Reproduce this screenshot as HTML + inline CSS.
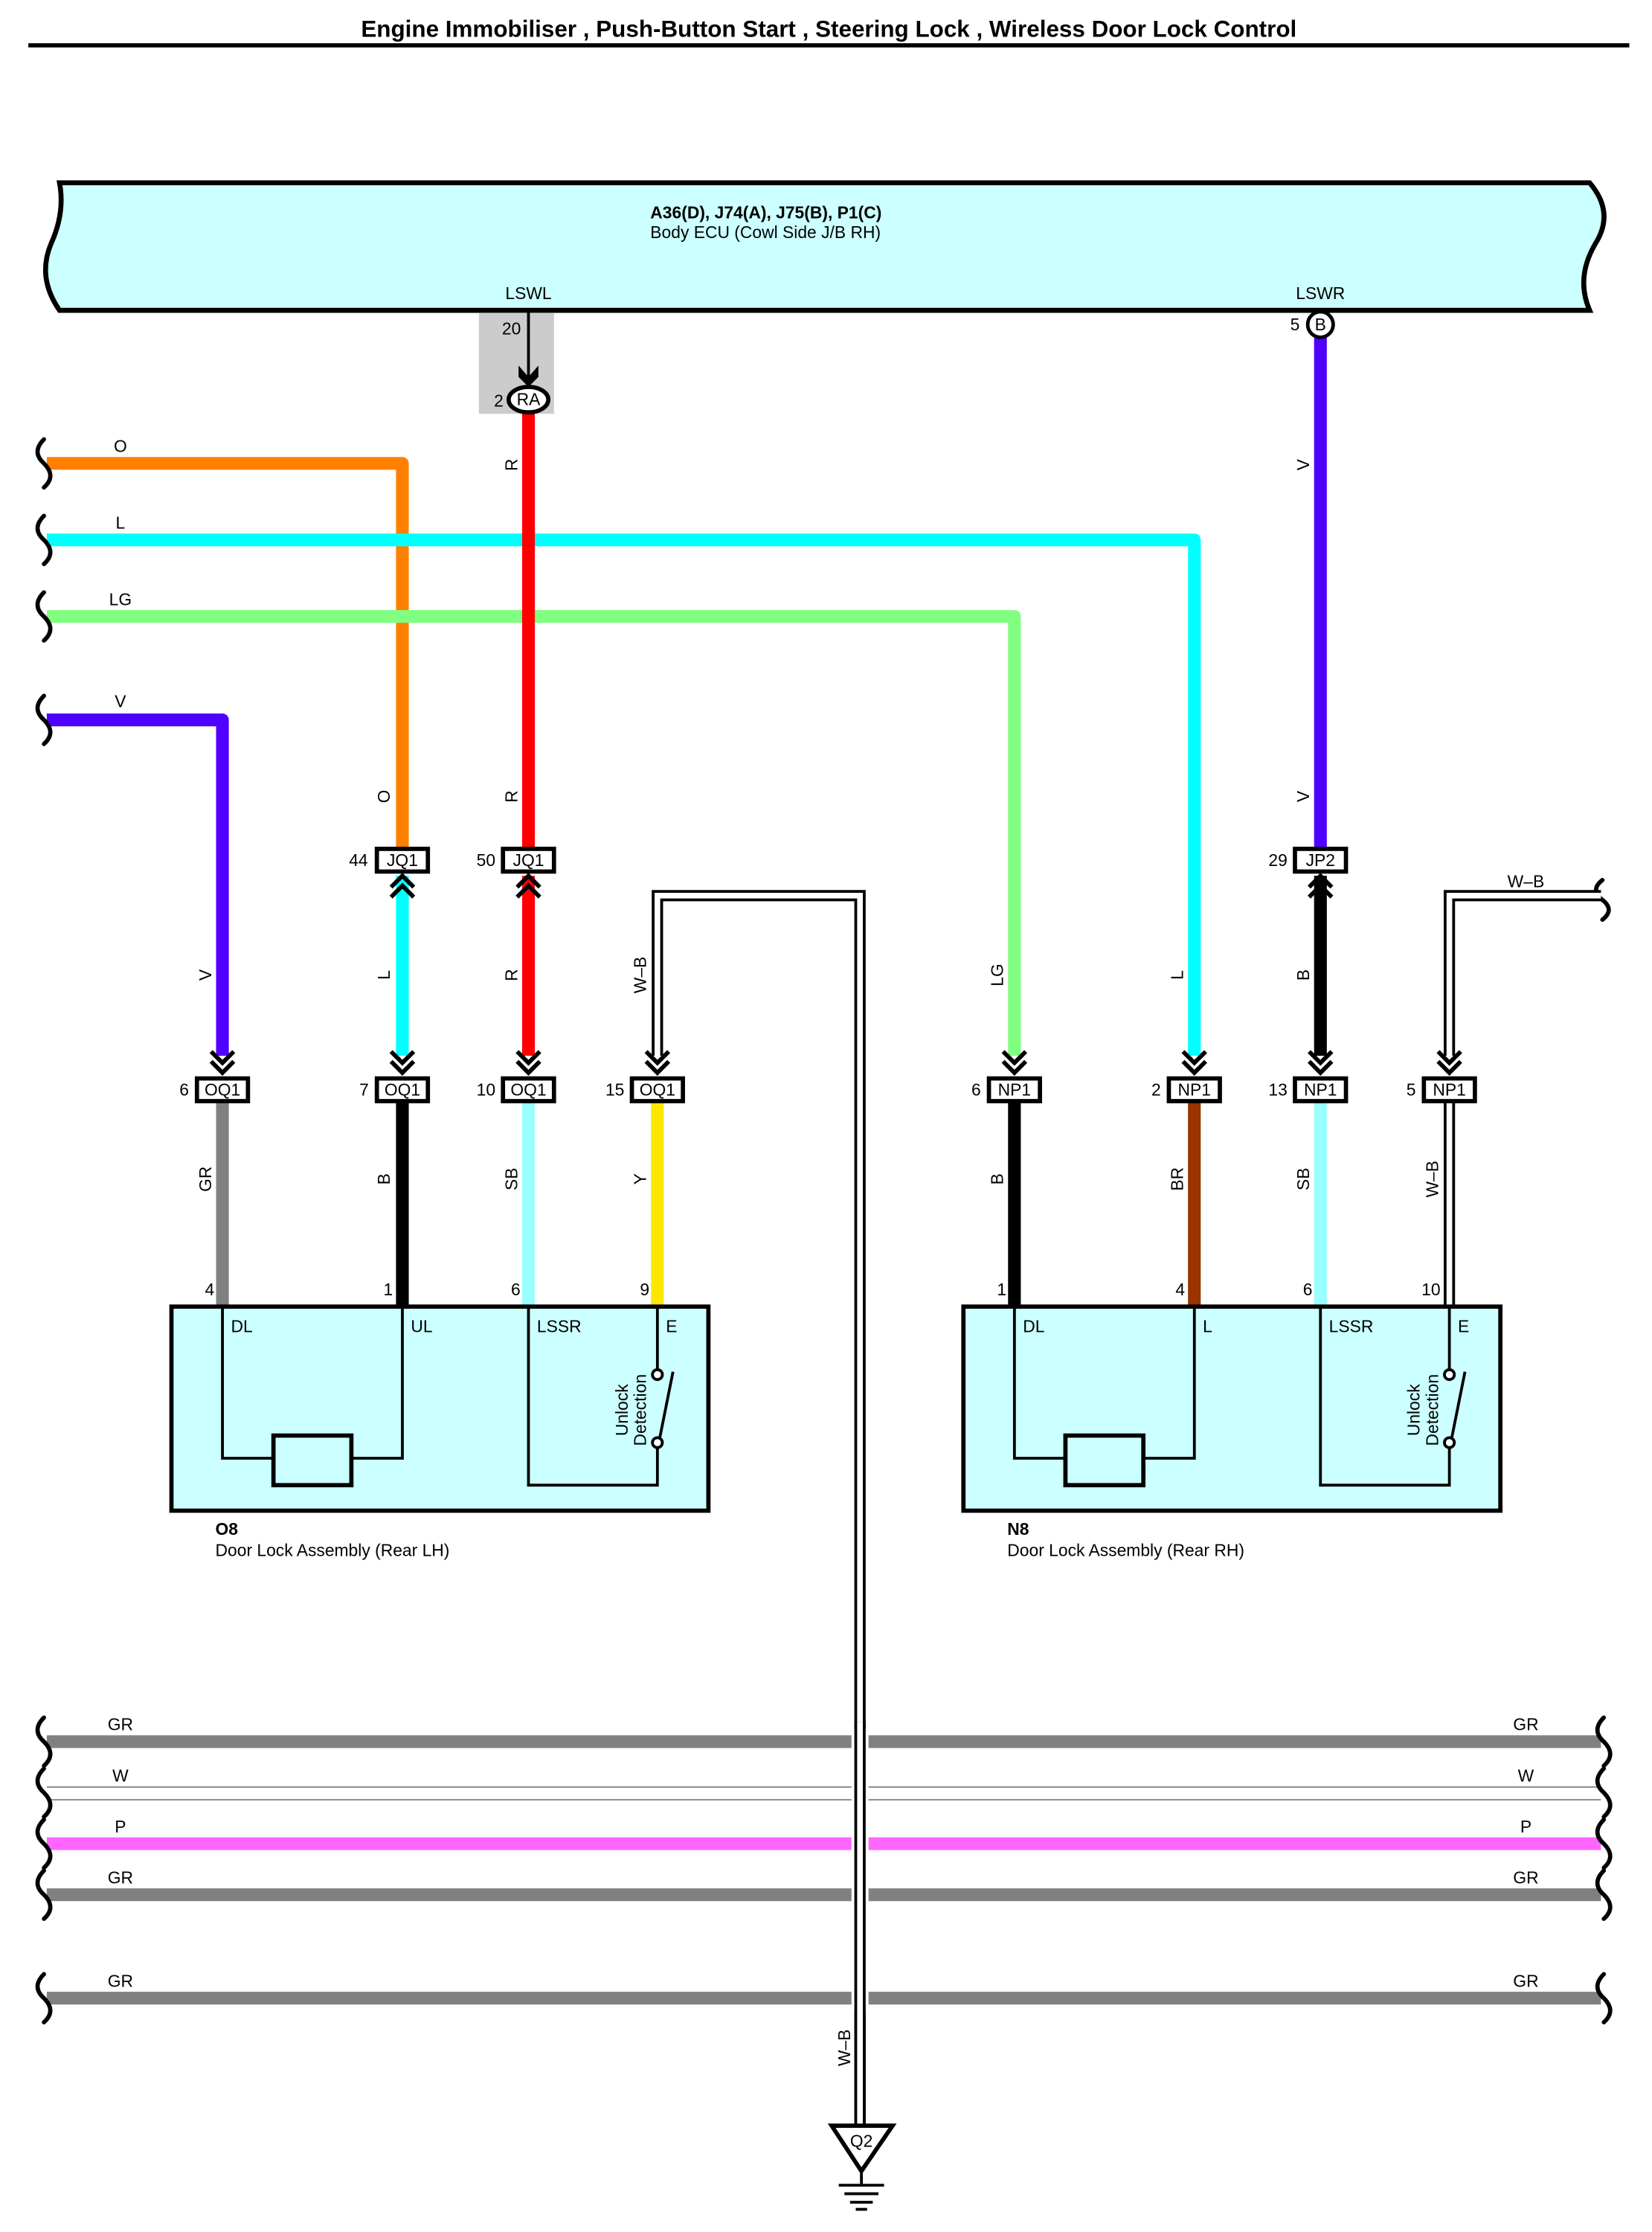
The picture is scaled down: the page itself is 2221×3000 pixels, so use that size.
<!DOCTYPE html>
<html><head><meta charset="utf-8"><style>
html,body{margin:0;padding:0;background:#fff}
svg{display:block}
text{font-family:"Liberation Sans",Arial,sans-serif;font-size:12px;fill:#000}
.c{text-anchor:middle}
</style></head><body>
<svg width="2221" height="3000" viewBox="0 0 1166 1575" xmlns="http://www.w3.org/2000/svg">
<rect width="1166" height="1575" fill="#fff"/>
<text x="585" y="26" class="c" style="font-weight:bold;font-size:16.5px">Engine Immobiliser , Push-Button Start , Steering Lock , Wireless Door Lock Control</text>
<line x1="20" y1="32" x2="1150" y2="32" stroke="#000" stroke-width="3"/>

<path d="M42,129 L1122,129 Q1140,150 1126,172 Q1112,196 1122,219 L42,219 Q26,196 36,172 Q46,150 42,129 Z" fill="#ccffff" stroke="#000" stroke-width="3.5"/>
<text x="459" y="154" style="font-weight:bold">A36(D), J74(A), J75(B), P1(C)</text>
<text x="459" y="168">Body ECU (Cowl Side J/B RH)</text>
<text x="373" y="211" class="c">LSWL</text>
<text x="932" y="211" class="c">LSWR</text>

<rect x="338" y="221" width="53" height="71" fill="#cccccc"/>
<line x1="373" y1="219" x2="373" y2="268" stroke="#000" stroke-width="2"/>
<path d="M366,258 L373,266 L380,258 L380,266 L373,273 L366,266 Z" fill="#000"/>
<text x="361" y="236" class="c">20</text>
<text x="352" y="287" class="c">2</text>

<g fill="none" stroke-width="9" stroke-linejoin="round">
<path d="M33,327 H284 V598" stroke="#ff8000"/>
<path d="M33,381 H843 V745" stroke="#00ffff"/>
<path d="M33,435 H716 V745" stroke="#80ff80"/>
<path d="M33,508 H157 V745" stroke="#5000ff"/>
<path d="M373,292 V598" stroke="#ff0000"/>
<path d="M373,618 V745" stroke="#ff0000"/>
<path d="M284,618 V745" stroke="#00ffff"/>
<path d="M932,238 V598" stroke="#5000ff"/>
<path d="M932,618 V745" stroke="#000"/>
<path d="M157,778 V922" stroke="#808080"/>
<path d="M284,778 V922" stroke="#000"/>
<path d="M373,778 V922" stroke="#99ffff"/>
<path d="M464,778 V922" stroke="#ffe600"/>
<path d="M716,778 V922" stroke="#000"/>
<path d="M843,778 V922" stroke="#993300"/>
<path d="M932,778 V922" stroke="#99ffff"/>
</g>
<ellipse cx="373" cy="282" rx="14" ry="9" fill="#fff" stroke="#000" stroke-width="3"/>
<text x="373" y="286" class="c">RA</text>
<circle cx="932" cy="229" r="9" fill="#fff" stroke="#000" stroke-width="2.5"/>
<text x="932" y="233" class="c">B</text>
<text x="914" y="233" class="c">5</text>

<g fill="none" stroke="#000" stroke-width="3" stroke-linecap="round">
<path d="M31,310 q-9,9 0,17 q9,9 0,17"/>
<path d="M31,364 q-9,9 0,17 q9,9 0,17"/>
<path d="M31,418 q-9,9 0,17 q9,9 0,17"/>
<path d="M31,491 q-9,9 0,17 q9,9 0,17"/>
<path d="M1131,621 q-9,7 0,14 q9,7 0,14"/>
</g>
<text x="85" y="319" class="c">O</text>
<text x="85" y="373" class="c">L</text>
<text x="85" y="427" class="c">LG</text>
<text x="85" y="499" class="c">V</text>

<g fill="none" stroke-linejoin="miter">
<path d="M464,745 V632 H607 V1500" stroke="#000" stroke-width="8"/>
<path d="M464,745 V632 H607 V1500" stroke="#fff" stroke-width="4"/>
<path d="M1023,745 V632 H1130" stroke="#000" stroke-width="8"/>
<path d="M1023,745 V632 H1130" stroke="#fff" stroke-width="4"/>
<path d="M1023,778 V922" stroke="#000" stroke-width="8"/>
<path d="M1023,778 V922" stroke="#fff" stroke-width="4"/>
</g>
<text x="1077" y="626" class="c">W–B</text>

<g fill="#fff" stroke="#000" stroke-width="3">
<rect x="266" y="599" width="36" height="16"/>
<rect x="355" y="599" width="36" height="16"/>
<rect x="914" y="599" width="36" height="16"/>
</g>
<text x="284" y="611" class="c">JQ1</text><text x="253" y="611" class="c">44</text>
<text x="373" y="611" class="c">JQ1</text><text x="343" y="611" class="c">50</text>
<text x="932" y="611" class="c">JP2</text><text x="902" y="611" class="c">29</text>
<g fill="none" stroke="#000" stroke-width="3">
<path d="M276,626 l8,-8 l8,8 M276,633 l8,-8 l8,8"/>
<path d="M365,626 l8,-8 l8,8 M365,633 l8,-8 l8,8"/>
<path d="M924,626 l8,-8 l8,8 M924,633 l8,-8 l8,8"/>
</g>

<g fill="none" stroke="#000" stroke-width="3">
<path d="M149,742 l8,8 l8,-8 M149,749 l8,8 l8,-8"/>
<path d="M276,742 l8,8 l8,-8 M276,749 l8,8 l8,-8"/>
<path d="M365,742 l8,8 l8,-8 M365,749 l8,8 l8,-8"/>
<path d="M456,742 l8,8 l8,-8 M456,749 l8,8 l8,-8"/>
<path d="M708,742 l8,8 l8,-8 M708,749 l8,8 l8,-8"/>
<path d="M835,742 l8,8 l8,-8 M835,749 l8,8 l8,-8"/>
<path d="M924,742 l8,8 l8,-8 M924,749 l8,8 l8,-8"/>
<path d="M1015,742 l8,8 l8,-8 M1015,749 l8,8 l8,-8"/>
</g>
<g fill="#fff" stroke="#000" stroke-width="3">
<rect x="139" y="761" width="36" height="16"/>
<rect x="266" y="761" width="36" height="16"/>
<rect x="355" y="761" width="36" height="16"/>
<rect x="446" y="761" width="36" height="16"/>
<rect x="698" y="761" width="36" height="16"/>
<rect x="825" y="761" width="36" height="16"/>
<rect x="914" y="761" width="36" height="16"/>
<rect x="1005" y="761" width="36" height="16"/>
</g>
<text x="157" y="773" class="c">OQ1</text><text x="130" y="773" class="c">6</text>
<text x="284" y="773" class="c">OQ1</text><text x="257" y="773" class="c">7</text>
<text x="373" y="773" class="c">OQ1</text><text x="343" y="773" class="c">10</text>
<text x="464" y="773" class="c">OQ1</text><text x="434" y="773" class="c">15</text>
<text x="716" y="773" class="c">NP1</text><text x="689" y="773" class="c">6</text>
<text x="843" y="773" class="c">NP1</text><text x="816" y="773" class="c">2</text>
<text x="932" y="773" class="c">NP1</text><text x="902" y="773" class="c">13</text>
<text x="1023" y="773" class="c">NP1</text><text x="996" y="773" class="c">5</text>

<g>
<text transform="translate(365,328) rotate(-90)" class="c">R</text>
<text transform="translate(924,328) rotate(-90)" class="c">V</text>
<text transform="translate(275,562) rotate(-90)" class="c">O</text>
<text transform="translate(365,562) rotate(-90)" class="c">R</text>
<text transform="translate(924,562) rotate(-90)" class="c">V</text>
<text transform="translate(149,688) rotate(-90)" class="c">V</text>
<text transform="translate(275,688) rotate(-90)" class="c">L</text>
<text transform="translate(365,688) rotate(-90)" class="c">R</text>
<text transform="translate(456,688) rotate(-90)" class="c">W–B</text>
<text transform="translate(708,688) rotate(-90)" class="c">LG</text>
<text transform="translate(835,688) rotate(-90)" class="c">L</text>
<text transform="translate(924,688) rotate(-90)" class="c">B</text>
<text transform="translate(149,832) rotate(-90)" class="c">GR</text>
<text transform="translate(275,832) rotate(-90)" class="c">B</text>
<text transform="translate(365,832) rotate(-90)" class="c">SB</text>
<text transform="translate(456,832) rotate(-90)" class="c">Y</text>
<text transform="translate(708,832) rotate(-90)" class="c">B</text>
<text transform="translate(835,832) rotate(-90)" class="c">BR</text>
<text transform="translate(924,832) rotate(-90)" class="c">SB</text>
<text transform="translate(1015,832) rotate(-90)" class="c">W–B</text>
<text transform="translate(600,1445) rotate(-90)" class="c">W–B</text>
</g>

<g>
<rect x="121" y="922" width="379" height="144" fill="#ccffff" stroke="#000" stroke-width="3"/>
<g fill="none" stroke="#000" stroke-width="2">
<path d="M157,922 V1029 H193 M248,1029 H284 V922"/>
<rect x="193" y="1013" width="55" height="35" stroke-width="3"/>
<path d="M373,922 V1048 H464 V1022 M464,966 V922 M465,1018 L475,968"/>
<circle cx="464" cy="970" r="3.5" fill="#fff"/>
<circle cx="464" cy="1018" r="3.5" fill="#fff"/>
</g>
<text x="163" y="940">DL</text><text x="290" y="940">UL</text>
<text x="379" y="940">LSSR</text><text x="470" y="940">E</text>
<text x="148" y="914" class="c">4</text><text x="274" y="914" class="c">1</text>
<text x="364" y="914" class="c">6</text><text x="455" y="914" class="c">9</text>
<text transform="translate(443,995) rotate(-90)" class="c">Unlock</text>
<text transform="translate(456,995) rotate(-90)" class="c">Detection</text>
<text x="152" y="1083" style="font-weight:bold">O8</text>
<text x="152" y="1098">Door Lock Assembly (Rear LH)</text>
</g>

<g transform="translate(559,0)">
<rect x="121" y="922" width="379" height="144" fill="#ccffff" stroke="#000" stroke-width="3"/>
<g fill="none" stroke="#000" stroke-width="2">
<path d="M157,922 V1029 H193 M248,1029 H284 V922"/>
<rect x="193" y="1013" width="55" height="35" stroke-width="3"/>
<path d="M373,922 V1048 H464 V1022 M464,966 V922 M465,1018 L475,968"/>
<circle cx="464" cy="970" r="3.5" fill="#fff"/>
<circle cx="464" cy="1018" r="3.5" fill="#fff"/>
</g>
<text x="163" y="940">DL</text><text x="290" y="940">L</text>
<text x="379" y="940">LSSR</text><text x="470" y="940">E</text>
<text x="148" y="914" class="c">1</text><text x="274" y="914" class="c">4</text>
<text x="364" y="914" class="c">6</text><text x="451" y="914" class="c">10</text>
<text transform="translate(443,995) rotate(-90)" class="c">Unlock</text>
<text transform="translate(456,995) rotate(-90)" class="c">Detection</text>
<text x="152" y="1083" style="font-weight:bold">N8</text>
<text x="152" y="1098">Door Lock Assembly (Rear RH)</text>
</g>

<g stroke-width="9">
<line x1="33" y1="1229" x2="1130" y2="1229" stroke="#808080"/>
<line x1="33" y1="1301" x2="1130" y2="1301" stroke="#ff66ff"/>
<line x1="33" y1="1337" x2="1130" y2="1337" stroke="#808080"/>
<line x1="33" y1="1410" x2="1130" y2="1410" stroke="#808080"/>
</g>
<line x1="33" y1="1261" x2="1130" y2="1261" stroke="#888" stroke-width="1"/>
<line x1="33" y1="1270" x2="1130" y2="1270" stroke="#888" stroke-width="1"/>
<rect x="601" y="1220" width="12" height="200" fill="#fff"/>
<path d="M607,1215 V1500" stroke="#000" stroke-width="8" fill="none"/>
<path d="M607,1215 V1502" stroke="#fff" stroke-width="4" fill="none"/>
<g fill="none" stroke="#000" stroke-width="3" stroke-linecap="round">
<path d="M31,1212 q-9,9 0,17 q9,9 0,17"/><path d="M1132,1212 q-9,9 0,17 q9,9 0,17"/>
<path d="M31,1248 q-9,9 0,17 q9,9 0,17"/><path d="M1132,1248 q-9,9 0,17 q9,9 0,17"/>
<path d="M31,1284 q-9,9 0,17 q9,9 0,17"/><path d="M1132,1284 q-9,9 0,17 q9,9 0,17"/>
<path d="M31,1320 q-9,9 0,17 q9,9 0,17"/><path d="M1132,1320 q-9,9 0,17 q9,9 0,17"/>
<path d="M31,1393 q-9,9 0,17 q9,9 0,17"/><path d="M1132,1393 q-9,9 0,17 q9,9 0,17"/>
</g>
<text x="85" y="1221" class="c">GR</text><text x="1077" y="1221" class="c">GR</text>
<text x="85" y="1257" class="c">W</text><text x="1077" y="1257" class="c">W</text>
<text x="85" y="1293" class="c">P</text><text x="1077" y="1293" class="c">P</text>
<text x="85" y="1329" class="c">GR</text><text x="1077" y="1329" class="c">GR</text>
<text x="85" y="1402" class="c">GR</text><text x="1077" y="1402" class="c">GR</text>

<path d="M587,1500 H630 L608,1532 Z" fill="#fff" stroke="#000" stroke-width="3"/>
<text x="608" y="1515" class="c">Q2</text>
<g stroke="#000" stroke-width="2">
<line x1="608" y1="1532" x2="608" y2="1541"/>
<line x1="592" y1="1542" x2="624" y2="1542"/>
<line x1="596" y1="1548" x2="620" y2="1548"/>
<line x1="600" y1="1554" x2="616" y2="1554"/>
<line x1="604" y1="1559" x2="612" y2="1559"/>
</g>
</svg>
</body></html>
